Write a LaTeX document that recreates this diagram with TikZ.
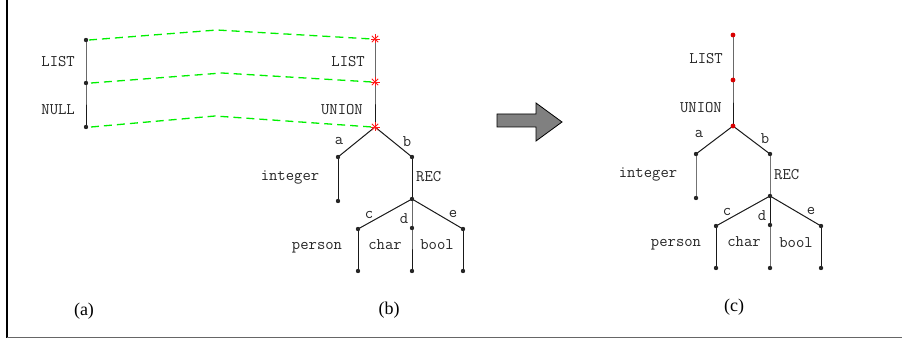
\documentclass[tikz,border=0pt]{standalone}
\usepackage{fontspec}
\setmainfont{Liberation Serif}
\begin{document}
\begin{tikzpicture}[x=1pt,y=-1pt,
  lab/.style={font=\ttfamily\fontsize{16.2}{18}\selectfont, inner sep=0pt, text=black!85},
  captxt/.style={font=\fontsize{18}{20}\selectfont, inner sep=0pt},
  treeline/.style={line width=1pt, black!90},
  gtreeline/.style={line width=1pt, black!55},
  greendash/.style={line width=1.3pt, green!90!black!60!green, dash pattern=on 8pt off 5pt},
  framestyle/.style={line width=1.4pt},
]
\useasboundingbox (0,0) rectangle (902,342);
% frame
\draw[framestyle, black] (7,0) -- (7,337.5);
\draw[framestyle, black!60] (7,337.5) -- (902,337.5);

% ---------- panel (a)
\coordinate (a1) at (86,40);
\coordinate (a2) at (86,83);
\coordinate (a3) at (86,127);
\draw[treeline] (a1) -- (a2) -- (a3);
\foreach \p in {a1,a2,a3} \fill[black!85] (\p) circle (2.2pt);
\node[lab, anchor=base east] (la1) at (75,66.5) {LIST};
\node[lab, anchor=base east] (la2) at (75,114.5) {NULL};

% ---------- panel (b)
\coordinate (b1) at (375,39);
\coordinate (b2) at (375,82);
\coordinate (b3) at (375,127);
\coordinate (ba) at (338,157);
\coordinate (bb) at (412,157);
\coordinate (bint) at (338,201);
\coordinate (brec) at (412,199);
\coordinate (bc) at (358,229);
\coordinate (bd) at (412,228);
\coordinate (be) at (463,229);
\coordinate (bcl) at (358,271);
\coordinate (bdl) at (412,271);
\coordinate (bel) at (463,271);
\draw[treeline] (b1) -- (b2) -- (b3);
\draw[treeline] (ba) -- (b3) -- (bb);
\draw[treeline] (ba) -- (bint);
\draw[treeline] (bb) -- (brec);
\draw[treeline] (bc) -- (brec) -- (be);
\draw[treeline] (brec) -- (bd) -- (bdl);
\draw[treeline] (bc) -- (bcl);
\draw[treeline] (be) -- (bel);
\foreach \p in {ba,bb,bint,brec,bc,bd,be,bcl,bdl,bel} \fill[black!85] (\p) circle (2.2pt);
\foreach \p in {b1,b2,b3} {
  \foreach \ang in {0,45,90,135}
    \draw[red!90, line width=0.9pt] ([shift={(\ang:4.5pt)}]\p) -- ([shift={(\ang+180:4.5pt)}]\p);
}
\node[lab, anchor=base east] (lb1) at (365,66.5) {LIST};
\node[lab, anchor=base east] (lb2) at (363,114.5) {UNION};
\node[lab, anchor=base] (lba) at (339,144) {a};
\node[lab, anchor=base] (lbb) at (407,146.5) {b};
\node[lab, anchor=base] (lbint) at (290,180) {integer};
\node[lab, anchor=base west] (lbrec) at (416,181.5) {REC};
\node[lab, anchor=base] (lbc) at (369,218) {c};
\node[lab, anchor=base] (lbd) at (404,223.5) {d};
\node[lab, anchor=base] (lbe) at (453,217) {e};
\node[lab, anchor=base] (lbper) at (317,249) {person};
\node[lab, anchor=base] (lbchar) at (385,249) {char};
\node[lab, anchor=base] (lbbool) at (437,249) {bool};

% green dashed correspondences
\coordinate (p1) at (217,30);
\coordinate (p2) at (222,73);
\coordinate (p3) at (215,116);
\draw[greendash] ([xshift=3pt]a1) -- (p1) -- ([xshift=-3pt]b1);
\draw[greendash] ([xshift=5pt]a2) -- (p2) -- ([xshift=-3pt]b2);
\draw[greendash] ([xshift=5pt]a3) -- (p3) -- ([xshift=-3pt]b3);

% ---------- big arrow
\draw[line width=0.8pt, fill=black!50] (497,114) -- (536,114) -- (536,103) -- (562,122) -- (536,141) -- (536,127) -- (497,127) -- cycle;

% ---------- panel (c)
\coordinate (c1) at (733,35);
\coordinate (c2) at (733,80);
\coordinate (c3) at (733,126);
\coordinate (ca) at (696,154);
\coordinate (cb) at (770,154);
\coordinate (cint) at (696,198);
\coordinate (crec) at (770,196);
\coordinate (cc) at (716,226);
\coordinate (cd) at (770,225);
\coordinate (ce) at (821,226);
\coordinate (ccl) at (716,268);
\coordinate (cdl) at (770,268);
\coordinate (cel) at (821,268);
\draw[treeline] (c1) -- (c2) -- (c3);
\draw[treeline] (ca) -- (c3) -- (cb);
\draw[gtreeline] (ca) -- (cint);
\draw[gtreeline] (cb) -- (crec);
\draw[treeline] (cc) -- (crec) -- (ce);
\draw[treeline] (crec) -- (cd);
\draw[gtreeline] (cd) -- (cdl);
\draw[treeline] (cc) -- (ccl);
\draw[treeline] (ce) -- (cel);
\foreach \p in {ca,cb,cint,crec,cc,cd,ce,ccl,cdl,cel} \fill[black!85] (\p) circle (2.2pt);
\foreach \p in {c1,c2,c3} \fill[red!85!black] (\p) circle (2.4pt);
\node[lab, anchor=base east] (lc1) at (723,63.5) {LIST};
\node[lab, anchor=base east] (lc2) at (722,112.5) {UNION};
\node[lab, anchor=base] (lca) at (699,138) {a};
\node[lab, anchor=base] (lcb) at (765,143.5) {b};
\node[lab, anchor=base] (lcint) at (648,177) {integer};
\node[lab, anchor=base west] (lcrec) at (774,179.5) {REC};
\node[lab, anchor=base] (lcc) at (727,215) {c};
\node[lab, anchor=base] (lcd) at (762,220.5) {d};
\node[lab, anchor=base] (lce) at (811,214) {e};
\node[lab, anchor=base] (lcper) at (676,246) {person};
\node[lab, anchor=base] (lcchar) at (744,246) {char};
\node[lab, anchor=base] (lcbool) at (796,247) {bool};

% captions
\node[captxt] (capa) at (84,311) {(a)};
\node[captxt] (capb) at (389,310) {(b)};
\node[captxt] (capc) at (734,307) {(c)};
\end{tikzpicture}
\end{document}
